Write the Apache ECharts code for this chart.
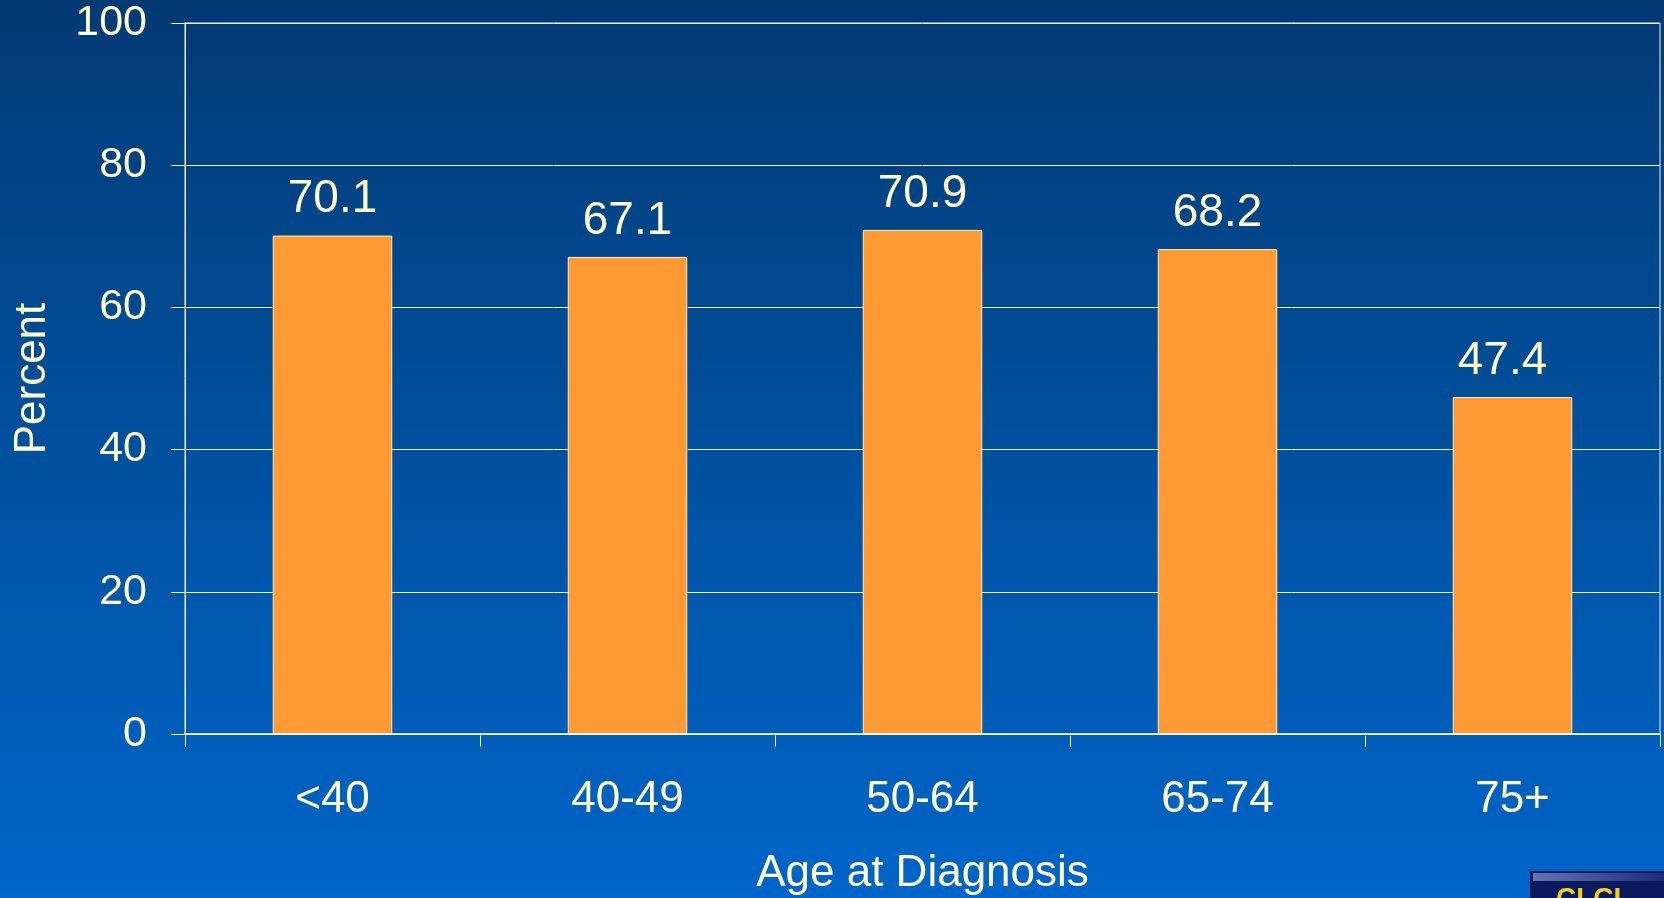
<!DOCTYPE html>
<html>
<head>
<meta charset="utf-8">
<script src="https://cdn.jsdelivr.net/npm/echarts@6/dist/echarts.min.js"></script>
<style>
  html, body { margin: 0; padding: 0; }
  #chart { width: 1664px; height: 898px; }
</style>
</head>
<body>
<div id="chart"></div>
<script>
// Age groups at diagnosis and the percentage for each group
const ageGroups = ['<40', '40-49', '50-64', '65-74', '75+'];
const percentValues = [70.1, 67.1, 70.9, 68.2, 47.4];
const yTicks = { min: 0, max: 100, interval: 20 };

const TEXT = '#FFFFCC';
const LINE = '#F2F2CC';
const FONT = '"Liberation Sans", Arial, sans-serif';

// the last value label sits a little left of its bar
const barData = percentValues.map((v, i) =>
  i === percentValues.length - 1 ? { value: v, label: { offset: [-10, 0] } } : v
);

const chart = echarts.init(document.getElementById('chart'));

chart.setOption({
  animation: false,
  backgroundColor: {
    type: 'linear', x: 0, y: 0, x2: 0, y2: 1,
    colorStops: [
      { offset: 0, color: '#033A74' },
      { offset: 0.45, color: '#014E9A' },
      { offset: 1, color: '#0065C9' }
    ]
  },
  textStyle: { fontFamily: FONT },
  grid: {
    left: 185, right: 4, top: 23, bottom: 164,
    containLabel: false,
    outerBoundsMode: 'none',
    show: true, borderColor: LINE, borderWidth: 1,
    backgroundColor: 'transparent'
  },
  xAxis: {
    type: 'category',
    data: ageGroups,
    boundaryGap: true,
    name: 'Age at Diagnosis',
    nameLocation: 'middle',
    nameGap: 118,
    nameTextStyle: { color: TEXT, fontSize: 44, fontFamily: FONT },
    axisLine: { show: true, lineStyle: { color: LINE, width: 1.5 } },
    axisTick: { show: true, length: 13, lineStyle: { color: LINE, width: 1 } },
    axisLabel: { color: TEXT, fontSize: 44, margin: 44, fontFamily: FONT }
  },
  yAxis: {
    type: 'value',
    min: yTicks.min, max: yTicks.max, interval: yTicks.interval,
    name: 'Percent',
    nameLocation: 'middle',
    nameRotate: 90,
    nameGap: 130,
    nameTextStyle: { color: TEXT, fontSize: 44, fontFamily: FONT },
    axisLine: { show: true, lineStyle: { color: LINE, width: 1 } },
    axisTick: { show: true, length: 14, lineStyle: { color: LINE, width: 1 } },
    axisLabel: { color: TEXT, fontSize: 43, margin: 38, fontFamily: FONT, padding: [6, 0, 0, 0] },
    splitLine: { show: true, lineStyle: { color: LINE, width: 1 } }
  },
  series: [{
    type: 'bar',
    data: barData,
    barWidth: '40.5%',
    itemStyle: { color: '#FF9933', borderColor: '#FFF2C0', borderWidth: 1 },
    label: {
      show: true,
      position: 'top',
      distance: 13,
      color: TEXT,
      fontSize: 46,
      fontFamily: FONT,
      formatter: p => p.value.toFixed(1)
    }
  }],
  graphic: [
    { type: 'rect', left: 1530, top: 871, shape: { width: 134, height: 27 }, style: { fill: '#0A1A5C' }, silent: true },
    {
      type: 'rect', left: 1533, top: 873, shape: { width: 131, height: 8 },
      style: {
        fill: {
          type: 'linear', x: 0, y: 0, x2: 1, y2: 0,
          colorStops: [{ offset: 0, color: '#6474B4' }, { offset: 1, color: '#1C2C78' }]
        }
      },
      silent: true
    },
    {
      type: 'text', left: 1556, top: 885,
      style: { text: 'CLCL', fill: '#F5D020', font: 'bold 28px ' + FONT },
      silent: true
    }
  ]
});
</script>
</body>
</html>
